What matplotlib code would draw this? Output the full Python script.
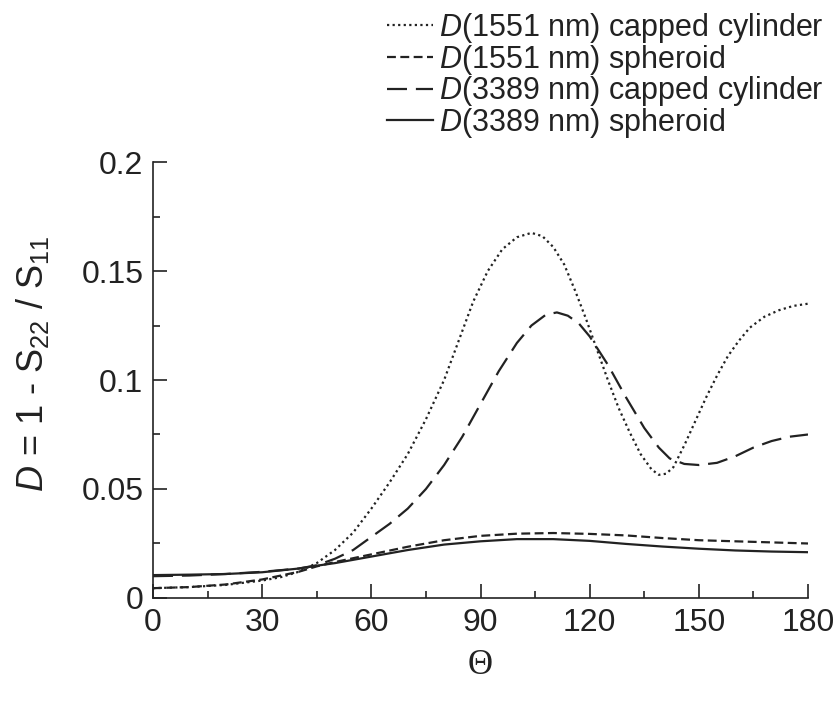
import matplotlib.pyplot as plt
from matplotlib.ticker import MultipleLocator

plt.rcParams['font.family'] = ['Liberation Sans', 'DejaVu Sans']
plt.rcParams['mathtext.fontset'] = 'custom'
plt.rcParams['mathtext.rm'] = 'Liberation Sans'
plt.rcParams['mathtext.it'] = 'Liberation Sans:italic'

# scattering angle (deg) and D values
theta_cc1551 = [0, 10, 20, 30, 35, 40, 45, 50, 55, 60, 65, 70, 75, 80, 84, 88, 92, 96,
                100, 104, 107, 110, 113, 116, 119, 122, 125, 128, 131, 134, 137, 139,
                141, 143, 146, 149, 152, 155, 158, 161, 164, 168, 172, 176, 180]
d_cc1551 = [0.0045, 0.005, 0.006, 0.008, 0.0095, 0.012, 0.016, 0.022, 0.030, 0.041,
            0.053, 0.066, 0.082, 0.100, 0.118, 0.136, 0.150, 0.160,
            0.1655, 0.1675, 0.166, 0.161, 0.153, 0.141, 0.128, 0.114, 0.100, 0.087,
            0.076, 0.066, 0.059, 0.0565, 0.057, 0.060, 0.070, 0.081, 0.092, 0.102,
            0.111, 0.118, 0.124, 0.129, 0.132, 0.134, 0.135]

theta_sp1551 = [0, 10, 20, 30, 40, 45, 50, 60, 70, 80, 90, 100, 110, 120, 130, 140,
                150, 160, 170, 180]
d_sp1551 = [0.0045, 0.005, 0.0062, 0.0085, 0.012, 0.0145, 0.0165, 0.020, 0.0235,
            0.0265, 0.0285, 0.0295, 0.0298, 0.0294, 0.0287, 0.0275, 0.0265, 0.026,
            0.0255, 0.025]

theta_cc3389 = [0, 10, 20, 30, 40, 45, 50, 55, 60, 65, 70, 75, 80, 85, 90, 95, 100,
                104, 108, 111, 114, 117, 120, 125, 130, 135, 139, 142, 146, 150, 155,
                160, 165, 170, 175, 180]
d_cc3389 = [0.0100, 0.0103, 0.011, 0.012, 0.0135, 0.015, 0.018, 0.022, 0.028, 0.034,
            0.041, 0.050, 0.061, 0.074, 0.089, 0.104, 0.117, 0.125, 0.130, 0.131,
            0.1295, 0.126, 0.120, 0.107, 0.092, 0.078, 0.069, 0.064, 0.0615, 0.061,
            0.062, 0.065, 0.069, 0.072, 0.074, 0.075]

theta_sp3389 = [0, 10, 20, 30, 40, 45, 50, 60, 70, 80, 90, 100, 110, 120, 130, 140,
                150, 160, 170, 180]
d_sp3389 = [0.0105, 0.0107, 0.011, 0.0118, 0.0135, 0.0148, 0.016, 0.019, 0.022,
            0.0245, 0.026, 0.027, 0.027, 0.0262, 0.0248, 0.0236, 0.0226, 0.0218,
            0.0213, 0.021]

col = '#222222'
fig = plt.figure(figsize=(8.38, 7.06), dpi=100)
ax = fig.add_axes([0.1826, 0.153, 0.7816, 0.6175])

ax.plot(theta_cc1551, d_cc1551, color=col, lw=1.6, linestyle=(0, (1, 1.5)),
        label=r'$D$(1551 nm) capped cylinder')
ax.plot(theta_sp1551, d_sp1551, color=col, lw=1.6, linestyle=(0, (4, 2)),
        label=r'$D$(1551 nm) spheroid')
ax.plot(theta_cc3389, d_cc3389, color=col, lw=1.6, linestyle=(0, (9, 4)),
        label=r'$D$(3389 nm) capped cylinder')
ax.plot(theta_sp3389, d_sp3389, color=col, lw=1.6, linestyle='-',
        label=r'$D$(3389 nm) spheroid')

ax.set_xlim(0, 180)
ax.set_ylim(0, 0.2)
ax.xaxis.set_major_locator(MultipleLocator(30))
ax.xaxis.set_minor_locator(MultipleLocator(15))
ax.yaxis.set_minor_locator(MultipleLocator(0.025))
ax.set_yticks([0, 0.05, 0.1, 0.15, 0.2])
ax.set_yticklabels(['0', '0.05', '0.1', '0.15', '0.2'])

for s in ['top', 'right']:
    ax.spines[s].set_visible(False)
for s in ['left', 'bottom']:
    ax.spines[s].set_linewidth(1.2)
    ax.spines[s].set_color(col)

ax.tick_params(which='major', direction='in', length=10, width=1.2, labelsize=23,
               colors=col, pad=7)
ax.tick_params(which='minor', direction='in', length=5, width=1.2, colors=col)

ax.set_xlabel('Θ', fontsize=25, family=['Liberation Serif'], labelpad=8, color=col)
ax.set_ylabel(r'$D$ = 1 - S$_{22}$ / S$_{11}$', fontsize=26, color=col)
ax.yaxis.set_label_coords(-0.155, 0.537)

fig.legend(loc='upper right', bbox_to_anchor=(1.003, 1.008), frameon=False, fontsize=22,
           handlelength=1.5, handletextpad=0.2, labelspacing=-0.08, borderpad=0.05,
           labelcolor=col)

plt.savefig('out.png', dpi=100, facecolor='white')
plt.close()
